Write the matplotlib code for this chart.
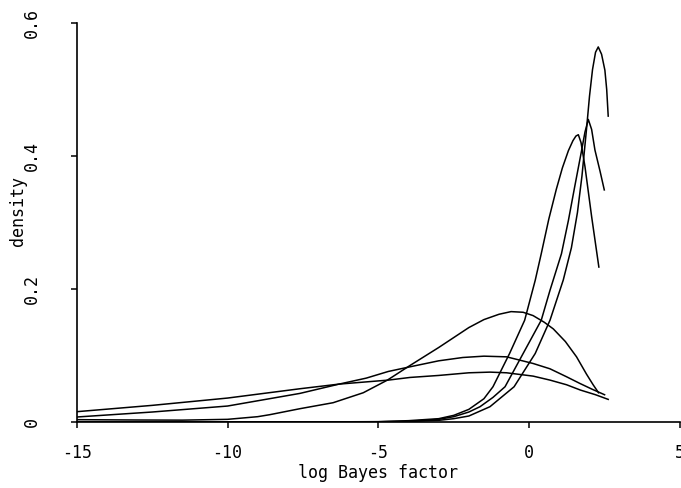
import matplotlib
matplotlib.use("Agg")
import matplotlib.pyplot as plt

plt.rcParams['font.family'] = ['DejaVu Sans Mono']
plt.rcParams['axes.unicode_minus'] = False

# Curve A (broad, peak ~0.166)
xa = [-15, -13, -11.5, -10, -9, -8.6, -7.6, -6.5, -5.5, -4.7, -3.95, -3.0, -2.5, -2.0, -1.5, -1.0, -0.6, -0.2, 0.13, 0.5, 0.8, 1.2, 1.57, 1.9, 2.12, 2.3]
ya = [0.0035, 0.003, 0.0028, 0.004, 0.008, 0.011, 0.020, 0.029, 0.044, 0.063, 0.085, 0.112, 0.127, 0.142, 0.154, 0.162, 0.166, 0.165, 0.160, 0.150, 0.140, 0.121, 0.098, 0.072, 0.056, 0.044]

# Curve B (peak ~0.099)
xb = [-15, -12.5, -10, -7.6, -6.3, -5.4, -4.67, -3.95, -3.0, -2.2, -1.5, -0.75, 0.13, 0.69, 1.24, 1.68, 2.1, 2.5]
yb = [0.0075, 0.015, 0.024, 0.043, 0.057, 0.066, 0.076, 0.083, 0.092, 0.097, 0.099, 0.098, 0.088, 0.080, 0.068, 0.058, 0.049, 0.041]

# Curve C (flattest, peak ~0.075)
xc = [-15, -12.5, -10, -7.6, -6.3, -4.67, -3.95, -3.0, -2.0, -1.3, -0.75, 0.13, 0.69, 1.24, 1.7, 2.2, 2.62]
yc = [0.0155, 0.025, 0.036, 0.050, 0.057, 0.063, 0.067, 0.070, 0.074, 0.075, 0.074, 0.069, 0.063, 0.056, 0.048, 0.041, 0.034]

# Curve D (tallest, peak ~0.564)
xd = [-15, -8, -5, -4, -3, -2.5, -2.0, -1.3, -0.5, 0.2, 0.69, 1.13, 1.4, 1.6, 1.75, 1.9, 2.0, 2.1, 2.2, 2.29, 2.4, 2.51, 2.57, 2.62]
yd = [0.0, 0.0, 0.0003, 0.0008, 0.0025, 0.005, 0.009, 0.023, 0.053, 0.103, 0.153, 0.2135, 0.262, 0.315, 0.37, 0.44, 0.49, 0.53, 0.556, 0.564, 0.553, 0.529, 0.50, 0.46]

# Curve E (peak ~0.455)
xe = [-15, -8, -5, -4, -3, -2.5, -2.0, -1.63, -1.2, -0.8, -0.2, 0.4, 0.69, 1.07, 1.3, 1.51, 1.72, 1.85, 1.96, 2.07, 2.18, 2.35, 2.49]
ye = [0.0, 0.0, 0.0004, 0.001, 0.004, 0.008, 0.015, 0.023, 0.037, 0.053, 0.103, 0.153, 0.198, 0.253, 0.303, 0.354, 0.404, 0.436, 0.455, 0.44, 0.409, 0.377, 0.349]

# Curve F (peak ~0.432)
xf = [-15, -8, -5, -4, -3, -2.5, -2.0, -1.5, -1.2, -0.65, -0.15, 0.2, 0.4, 0.65, 0.9, 1.1, 1.3, 1.45, 1.55, 1.63, 1.72, 1.85, 2.07, 2.31]
yf = [0.0, 0.0, 0.0005, 0.002, 0.005, 0.010, 0.019, 0.035, 0.053, 0.103, 0.153, 0.213, 0.253, 0.305, 0.350, 0.382, 0.408, 0.423, 0.430, 0.432, 0.420, 0.384, 0.309, 0.233]

xticks = [-15, -10, -5, 0, 5]
xticklabels = ['-15', '-10', '-5', '0', '5']
yticks = [0, 0.2, 0.4, 0.6]
yticklabels = ['0', '0.2', '0.4', '0.6']

W, H = 681, 488
fig = plt.figure(figsize=(W / 100, H / 100), dpi=100)
ax = fig.add_axes([76.7 / W, (H - 422) / H, (680 - 76.7) / W, (422 - 23) / H])

for xs, ys in [(xa, ya), (xb, yb), (xc, yc), (xd, yd), (xe, ye), (xf, yf)]:
    ax.plot(xs, ys, color='black', lw=1.1, solid_joinstyle='round')

ax.set_xlim(-15, 5)
ax.set_ylim(0, 0.6)
ax.spines['top'].set_visible(False)
ax.spines['right'].set_visible(False)
for s in ['left', 'bottom']:
    ax.spines[s].set_linewidth(1.2)

ax.set_xticks(xticks)
ax.set_xticklabels(xticklabels)
ax.set_yticks(yticks)
ax.set_yticklabels(yticklabels, rotation=90, va='center')
ax.tick_params(axis='both', direction='out', length=4, width=1.1, labelsize=12)
ax.tick_params(axis='x', pad=12)
ax.tick_params(axis='y', pad=22)

ax.set_xlabel('log Bayes factor', fontsize=12)
ax.xaxis.set_label_coords(0.5, -0.105)
ax.set_ylabel('density', fontsize=12)
ax.yaxis.set_label_coords(-0.082, 0.53)

fig.savefig('out.png', dpi=100)
